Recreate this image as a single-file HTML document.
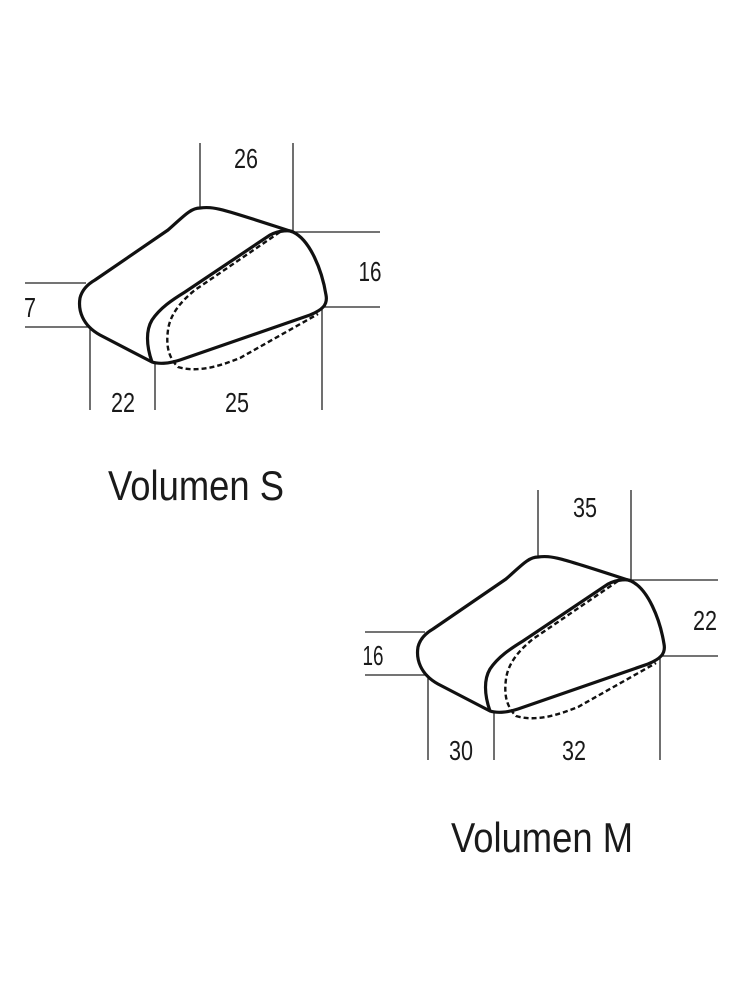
<!DOCTYPE html>
<html><head><meta charset="utf-8"><style>
html,body{margin:0;padding:0;background:#fff;}
svg{display:block;}
text{font-family:"Liberation Sans",sans-serif;fill:#1a1a1a;}
</style></head><body>
<svg width="750" height="1000" viewBox="0 0 750 1000" xmlns="http://www.w3.org/2000/svg">
<defs>
<g id="shape">
<path d="M200,208 C215,206 225,210 293,232 C310,240 322,270 326,295 C328,305 322,310 310,315 L180,360 C168,364 158,364 152,362 L100,335 C82,325 78,310 80,298 C82,290 88,284 95,280 L168,230 C182,218 190,208 200,208 Z" fill="none" stroke="#111" stroke-width="3.2" stroke-linejoin="round"/>
<path d="M152,362 C146,345 146,330 152,320 C160,308 172,300 185,292 L270,235 C280,230 290,230 293,232" fill="none" stroke="#111" stroke-width="3.2"/>
<path d="M280,232 L195,290 C180,302 170,315 168,330 C166,345 168,357 178,367 C198,373 220,366 240,358 L318,314" fill="none" stroke="#111" stroke-width="2.4" stroke-dasharray="5,3"/>
</g>
</defs>
<g stroke="#222" stroke-width="1.3" fill="none">
<line x1="200" y1="143" x2="200" y2="208"/><line x1="293" y1="143" x2="293" y2="232"/>
<line x1="293" y1="232" x2="380" y2="232"/><line x1="322" y1="307" x2="380" y2="307"/>
<line x1="25" y1="283" x2="86" y2="283"/><line x1="25" y1="327" x2="90" y2="327"/>
<line x1="90" y1="327" x2="90" y2="410"/><line x1="155" y1="363" x2="155" y2="410"/><line x1="322" y1="308" x2="322" y2="410"/>
<line x1="538" y1="490" x2="538" y2="557"/><line x1="631" y1="490" x2="631" y2="580"/>
<line x1="631" y1="580" x2="718" y2="580"/><line x1="660" y1="656" x2="718" y2="656"/>
<line x1="365" y1="632" x2="425" y2="632"/><line x1="365" y1="675" x2="428" y2="675"/>
<line x1="428" y1="675" x2="428" y2="760"/><line x1="494" y1="712" x2="494" y2="760"/><line x1="660" y1="656" x2="660" y2="760"/>
</g>
<use href="#shape"/>
<use href="#shape" transform="translate(338,349)"/>
<g font-size="28" text-anchor="middle">
<text x="246" y="168" textLength="24" lengthAdjust="spacingAndGlyphs">26</text>
<text x="370" y="281" textLength="23" lengthAdjust="spacingAndGlyphs">16</text>
<text x="30" y="317" textLength="12" lengthAdjust="spacingAndGlyphs">7</text>
<text x="123" y="412" textLength="24" lengthAdjust="spacingAndGlyphs">22</text>
<text x="237" y="412" textLength="24" lengthAdjust="spacingAndGlyphs">25</text>
<text x="585" y="517" textLength="24" lengthAdjust="spacingAndGlyphs">35</text>
<text x="705" y="630" textLength="24" lengthAdjust="spacingAndGlyphs">22</text>
<text x="373" y="665" textLength="21" lengthAdjust="spacingAndGlyphs">16</text>
<text x="461" y="760" textLength="24" lengthAdjust="spacingAndGlyphs">30</text>
<text x="574" y="760" textLength="24" lengthAdjust="spacingAndGlyphs">32</text>
</g>
<text x="108" y="500" font-size="42" textLength="176" lengthAdjust="spacingAndGlyphs">Volumen S</text>
<text x="451" y="852" font-size="42" textLength="182" lengthAdjust="spacingAndGlyphs">Volumen M</text>
</svg>
</body></html>
